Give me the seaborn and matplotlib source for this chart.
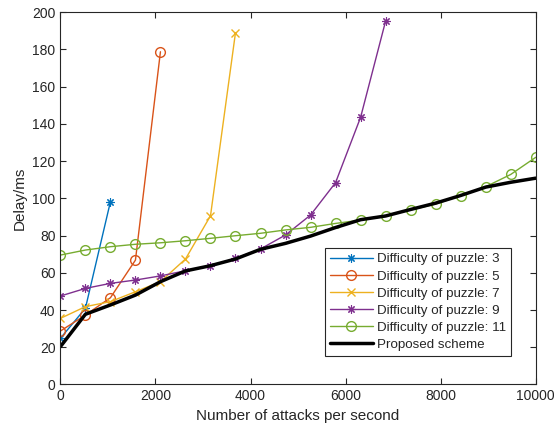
import numpy as np
import pandas as pd
import matplotlib
matplotlib.use("Agg")
import matplotlib.pyplot as plt
import seaborn as sns

# ---- data ----
x_all = [0, 526, 1053, 1579, 2105, 2632, 3158, 3684, 4211, 4737,
         5263, 5789, 6316, 6842, 7368, 7895, 8421, 8947, 9474, 10000]
d3 = [24.8, 40.9, 98.2]
d5 = [28.7, 37.3, 46.6, 66.8, 178.7]
d7 = [35.5, 41.8, 44.5, 49.8, 55.2, 67.4, 90.6, 189.0]
d9 = [47.5, 51.6, 54.3, 56.1, 58.3, 61.1, 63.8, 67.7, 72.8, 80.3,
      91.0, 108.4, 143.5, 195.2]
d11 = [69.5, 72.2, 74.0, 75.3, 76.1, 77.2, 78.5, 79.9, 81.2, 83.0,
       84.4, 86.5, 88.3, 90.6, 93.7, 96.9, 101.4, 106.2, 112.8, 122.0]
proposed = [20.3, 37.7, 42.7, 48.0, 55.2, 61.0, 63.8, 67.4, 72.6, 75.8,
            79.7, 84.3, 88.5, 90.5, 94.0, 97.4, 101.5, 106.0, 108.6, 110.8]
labels = ["Difficulty of puzzle: 3", "Difficulty of puzzle: 5",
          "Difficulty of puzzle: 7", "Difficulty of puzzle: 9",
          "Difficulty of puzzle: 11", "Proposed scheme"]
x_ticks = [0, 2000, 4000, 6000, 8000, 10000]
y_ticks = [0, 20, 40, 60, 80, 100, 120, 140, 160, 180, 200]

sns.set_style("white")
plt.rcParams['font.family'] = ['Liberation Sans', 'DejaVu Sans']

fig = plt.figure(figsize=(5.54, 4.32), dpi=100)
ax = fig.add_axes([0.109, 0.11, 0.858, 0.862])

colors = ["#0072BD", "#D95319", "#EDB120", "#7E2F8E", "#77AC30"]
markers = [(8, 2, 0), "o", "x", (8, 2, 0), "o"]
msizes = [6, 7, 5.5, 6, 7]
mews = [0.8, 1.0, 1.0, 0.8, 1.0]
series = [d3, d5, d7, d9, d11]

for vals, c, m, ms, mew, lab in zip(series, colors, markers, msizes, mews, labels[:5]):
    df = pd.DataFrame({"x": x_all[:len(vals)], "y": vals})
    sns.lineplot(data=df, x="x", y="y", ax=ax, color=c, linewidth=1.0,
                 marker=m, markersize=ms,
                 markerfacecolor=("none" if m == "o" else c),
                 markeredgecolor=c, markeredgewidth=mew, label=lab)

dfp = pd.DataFrame({"x": x_all, "y": proposed})
sns.lineplot(data=dfp, x="x", y="y", ax=ax, color="black", linewidth=2.5,
             label=labels[5])

ax.set_xlim(0, 10000)
ax.set_ylim(0, 200)
ax.set_xticks(x_ticks)
ax.set_yticks(y_ticks)
ax.set_xlabel("Number of attacks per second", fontsize=11, color="#262626")
ax.set_ylabel("Delay/ms", fontsize=11, color="#262626")
ax.tick_params(direction="in", length=4, width=0.8, colors="#262626",
               labelsize=10, top=True, right=True, bottom=True, left=True)
for s in ax.spines.values():
    s.set_visible(True)
    s.set_color("#262626")
    s.set_linewidth(0.8)

leg = ax.legend(loc="lower right", bbox_to_anchor=(0.947, 0.077),
                fontsize=9.6, frameon=True, fancybox=False, framealpha=1,
                edgecolor="#262626", handlelength=3.2, borderpad=0.35,
                labelspacing=0.36, handletextpad=0.3, borderaxespad=0)
leg.get_frame().set_linewidth(0.8)

fig.savefig("out.png", dpi=100)
